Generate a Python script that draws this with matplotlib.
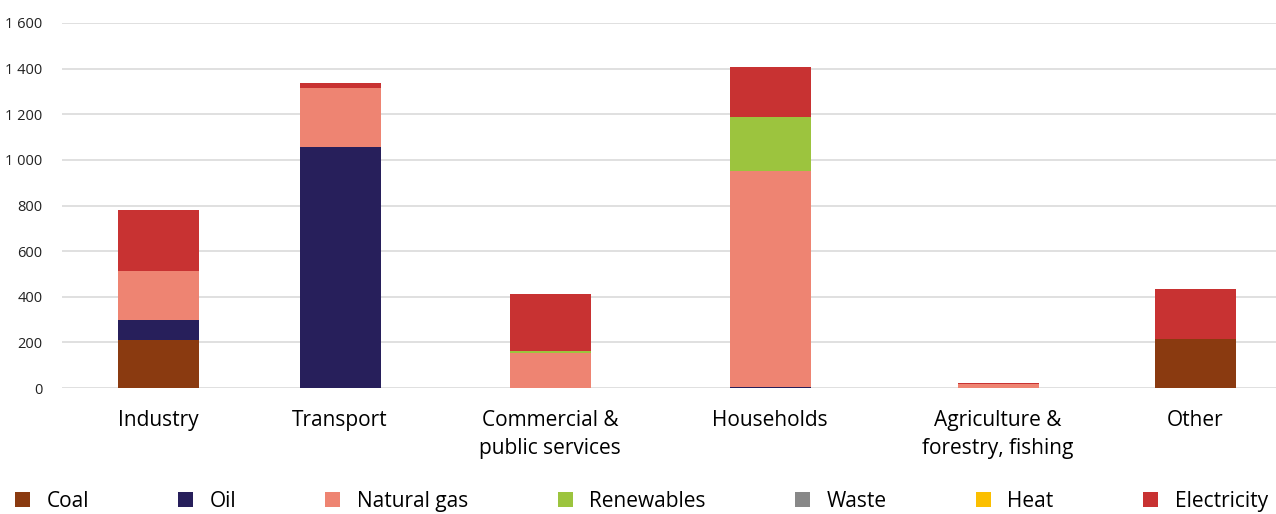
import matplotlib
matplotlib.use("Agg")
import matplotlib.pyplot as plt
import numpy as np

plt.rcParams['font.family'] = ['Open Sans', 'DejaVu Sans']

sectors = ["Industry", "Transport", "Commercial &\npublic services", "Households",
           "Agriculture &\nforestry, fishing", "Other"]
fuels = ["Coal", "Oil", "Natural gas", "Renewables", "Waste", "Heat", "Electricity"]
colors = ["#8a3a10", "#271f5b", "#ee8472", "#9cc43e", "#888888", "#fbbf00", "#c83232"]

coal = [210, 0, 0, 0, 0, 215]
oil = [88, 1057, 0, 4, 2, 0]
natural_gas = [215, 258, 153, 947, 14, 0]
renewables = [0, 0, 8, 237, 1, 0]
waste = [0, 0, 0, 0, 0, 0]
heat = [0, 0, 0, 0, 2, 0]
electricity = [267, 22, 251, 220, 5, 219]

series = [coal, oil, natural_gas, renewables, waste, heat, electricity]

# slot centres along the axis (in axis units)
xpos = [96, 278, 488, 708, 936, 1133]
bar_w = 81

fig = plt.figure(figsize=(12.76, 5.14), dpi=100)
ax = fig.add_axes([62 / 1276, 126 / 514, 1214 / 1276, 365 / 514])

bottom = np.zeros(len(sectors))
for name, vals, c in zip(fuels, series, colors):
    ax.bar(xpos, vals, bar_w, bottom=bottom, color=c, label=name, zorder=3)
    bottom += np.array(vals)

ax.set_xlim(0, 1214)
ax.set_ylim(0, 1600)
ax.set_yticks(range(0, 1601, 200))
ax.set_yticklabels([f"{v:,}".replace(",", " ") for v in range(0, 1601, 200)], fontsize=10.5)
ax.grid(axis="y", color="#e0e0e0", linewidth=1.4, zorder=0)
ax.set_xticks(xpos)
ax.set_xticklabels(sectors, fontsize=15, linespacing=1.45, va="top")
ax.tick_params(axis="x", length=0, pad=16)
ax.tick_params(axis="y", length=0, pad=14, colors="#222222")
for s in ax.spines.values():
    s.set_visible(False)

fig.legend(loc="lower left", bbox_to_anchor=(0.005, -0.012, 0.995, 0.06), mode="expand",
           ncol=7, frameon=False, fontsize=15, handlelength=0.72, handleheight=0.72,
           handletextpad=0.8, borderaxespad=0.0)

fig.savefig("out.png", dpi=100)
